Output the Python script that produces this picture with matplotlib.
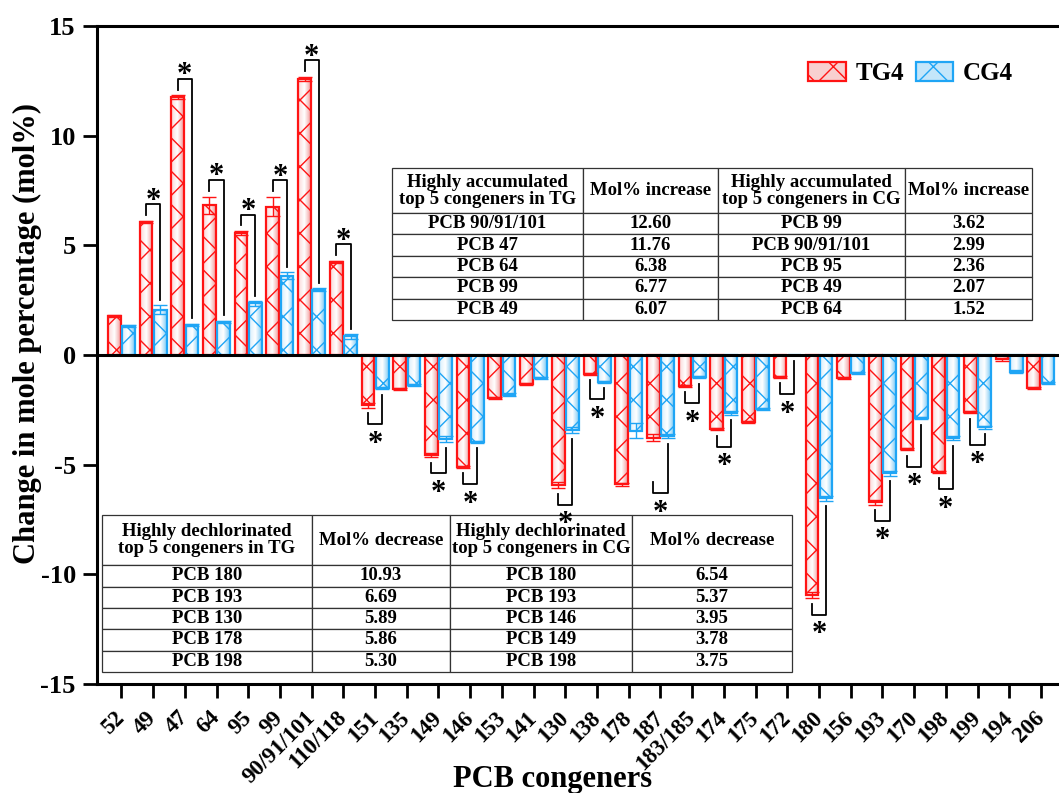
import numpy as np
import matplotlib
matplotlib.use('Agg')
import matplotlib.pyplot as plt
from matplotlib.colors import LinearSegmentedColormap
from matplotlib.patches import Patch
from matplotlib.transforms import ScaledTranslation

plt.rcParams['font.family'] = ['Liberation Serif', 'DejaVu Serif']
plt.rcParams['font.weight'] = 'bold'
plt.rcParams['axes.labelweight'] = 'bold'
plt.rcParams['axes.unicode_minus'] = False
plt.rcParams['hatch.linewidth'] = 1.0

# congeners on the x axis
congeners = ['52', '49', '47', '64', '95', '99', '90/91/101', '110/118', '151', '135',
             '149', '146', '153', '141', '130', '138', '178', '187', '183/185', '174',
             '175', '172', '180', '156', '193', '170', '198', '199', '194', '206']

# change in mole percentage
tg4 = [1.78, 6.07, 11.76, 6.83, 5.56, 6.77, 12.60, 4.25, -2.30, -1.55,
       -4.55, -5.10, -1.95, -1.32, -5.93, -0.85, -5.90, -3.77, -1.40, -3.38,
       -3.07, -0.99, -10.95, -1.05, -6.72, -4.30, -5.32, -2.60, -0.20, -1.52]
cg4 = [1.32, 2.07, 1.37, 1.52, 2.36, 3.62, 2.99, 0.85, -1.50, -1.35,
       -3.82, -3.95, -1.80, -1.05, -3.42, -1.22, -3.45, -3.70, -1.00, -2.63,
       -2.45, 0.0, -6.54, -0.80, -5.40, -2.88, -3.78, -3.30, -0.75, -1.28]
tg4_err = [0.05, 0.05, 0.10, 0.40, 0.10, 0.45, 0.10, 0.05, 0.10, 0.05,
           0.10, 0.05, 0.05, 0.05, 0.15, 0.05, 0.05, 0.15, 0.05, 0.05,
           0.05, 0.05, 0.15, 0.05, 0.10, 0.05, 0.05, 0.05, 0.05, 0.05]
cg4_err = [0.05, 0.20, 0.05, 0.05, 0.10, 0.15, 0.05, 0.10, 0.05, 0.05,
           0.15, 0.05, 0.05, 0.05, 0.15, 0.05, 0.35, 0.10, 0.05, 0.10,
           0.05, 0.00, 0.10, 0.05, 0.10, 0.05, 0.10, 0.05, 0.05, 0.05]
# significant difference TG vs CG
signif = [0, 1, 1, 1, 1, 1, 1, 1, 1, 0,
          1, 1, 0, 0, 1, 1, 0, 1, 1, 1,
          0, 1, 1, 0, 1, 1, 1, 1, 0, 0]

top_table = [['Highly accumulated\ntop 5 congeners in TG', 'Mol% increase',
              'Highly accumulated\ntop 5 congeners in CG', 'Mol% increase'],
             ['PCB 90/91/101', '12.60', 'PCB 99', '3.62'],
             ['PCB 47', '11.76', 'PCB 90/91/101', '2.99'],
             ['PCB 64', '6.38', 'PCB 95', '2.36'],
             ['PCB 99', '6.77', 'PCB 49', '2.07'],
             ['PCB 49', '6.07', 'PCB 64', '1.52']]
bottom_table = [['Highly dechlorinated\ntop 5 congeners in TG', 'Mol% decrease',
                 'Highly dechlorinated\ntop 5 congeners in CG', 'Mol% decrease'],
                ['PCB 180', '10.93', 'PCB 180', '6.54'],
                ['PCB 193', '6.69', 'PCB 193', '5.37'],
                ['PCB 130', '5.89', 'PCB 146', '3.95'],
                ['PCB 178', '5.86', 'PCB 149', '3.78'],
                ['PCB 198', '5.30', 'PCB 198', '3.75']]

red = '#ff1414'
blue = '#1fa5f5'
red_cmap = LinearSegmentedColormap.from_list('r', ['#fbd6d6', '#ffffff', '#f29a9a'])
blue_cmap = LinearSegmentedColormap.from_list('b', ['#d6eefc', '#ffffff', '#80cbf5'])

fig = plt.figure(figsize=(10.59, 7.93), dpi=100)
ax = fig.add_axes([0.0913, 0.1375, 0.915, 0.8295])

x = np.arange(len(congeners))
w = 0.4
off = 0.225
tg4 = np.array(tg4)
cg4 = np.array(cg4)
tg4_err = np.array(tg4_err)
cg4_err = np.array(cg4_err)

bars_tg = ax.bar(x - off, tg4, w, facecolor='none', edgecolor=red, hatch='x', linewidth=1.6, zorder=3)
bars_cg = ax.bar(x + off, cg4, w, facecolor='none', edgecolor=blue, hatch='x', linewidth=1.6, zorder=3)

grad = np.linspace(0, 1, 64).reshape(1, -1)
for bars, cmap in [(bars_tg, red_cmap), (bars_cg, blue_cmap)]:
    for r in bars:
        x0, y0 = r.get_xy()
        bw, bh = r.get_width(), r.get_height()
        if bh == 0:
            continue
        ax.imshow(grad, extent=[x0, x0 + bw, y0, y0 + bh], cmap=cmap, aspect='auto', zorder=2)

ax.errorbar(x - off, tg4, yerr=tg4_err, fmt='none', ecolor=red, elinewidth=1.0, capsize=5, capthick=1.0, zorder=4)
ax.errorbar(x + off, cg4, yerr=cg4_err, fmt='none', ecolor=blue, elinewidth=1.0, capsize=5, capthick=1.0, zorder=4)

# significance brackets
for i in range(len(congeners)):
    if not signif[i]:
        continue
    if tg4[i] >= 0:
        s = 1
        e1 = tg4[i] + tg4_err[i] + 0.25
        e2 = cg4[i] + cg4_err[i] + 0.25
        level = max(e1, e2) + 0.5
    else:
        s = -1
        e1 = tg4[i] - tg4_err[i] - 0.25
        e2 = cg4[i] - cg4_err[i] - 0.25
        level = min(e1, e2) - 0.5
    if congeners[i] == '187':
        level = -6.3
        e1 = level + 0.5
    ax.plot([x[i] - off, x[i] - off, x[i] + off, x[i] + off],
            [e1, level, level, e2],
            color='black', linewidth=1.3, zorder=5)
    base = level - 0.2 if s > 0 else level - 1.25
    ax.text(x[i], base, '*', ha='center', va='baseline', fontsize=22, zorder=9)

ax.axhline(0, color='black', linewidth=2.2, zorder=6)

ax.set_xlim(-0.78, 29.78)
ax.set_ylim(-15, 15)
ax.set_yticks([-15, -10, -5, 0, 5, 10, 15])
ax.set_xticks(x)
ax.set_xticklabels(congeners, rotation=45, ha='right', va='center', rotation_mode='anchor')
for lab in ax.get_xticklabels():
    lab.set_transform(lab.get_transform() + ScaledTranslation(0.2, 0, fig.dpi_scale_trans))
ax.tick_params(axis='x', length=10, width=2, labelsize=16.5, pad=12)
ax.tick_params(axis='y', length=10, width=2, labelsize=19, pad=5)
for sp in ax.spines.values():
    sp.set_linewidth(2.2)

ax.set_ylabel('Change in mole percentage (mol%)', fontsize=22)
ax.yaxis.set_label_coords(-0.056, 0.533)
ax.set_xlabel('PCB congeners', fontsize=22)
ax.xaxis.set_label_coords(0.47, -0.123)

# legend
handles = [Patch(facecolor='#f8d0d0', edgecolor=red, hatch='x', linewidth=1.6, label='TG4'),
           Patch(facecolor='#c4e6fa', edgecolor=blue, hatch='x', linewidth=1.6, label='CG4')]
ax.legend(handles=handles, loc='upper left', bbox_to_anchor=(0.742, 0.95), ncol=2, frameon=False,
          fontsize=18, handlelength=1.5, handleheight=0.75, handletextpad=0.4, columnspacing=0.45,
          bbox_transform=fig.transFigure)


def draw_table(rows, bbox, widths, head):
    t = ax.table(cellText=rows, cellLoc='center', colWidths=widths, bbox=bbox, zorder=7)
    t.auto_set_font_size(False)
    for (r, c), cell in t.get_celld().items():
        cell.set_linewidth(0.9)
        cell.set_edgecolor('#333333')
        cell.set_facecolor('white')
        cell.get_text().set_fontsize(13.5)
        cell.get_text().set_fontweight('bold')
        cell.get_text().set_linespacing(1.0)
        cell.set_height(head if r == 0 else 1.0)
    return t


draw_table(top_table, [0.3048, 0.5532, 0.6606, 0.231], [191, 135, 187, 127], 2.1)
draw_table(bottom_table, [0.0055, 0.0182, 0.7122, 0.2386], [210, 138, 182, 160], 2.35)

fig.savefig('out.png', dpi=100)
